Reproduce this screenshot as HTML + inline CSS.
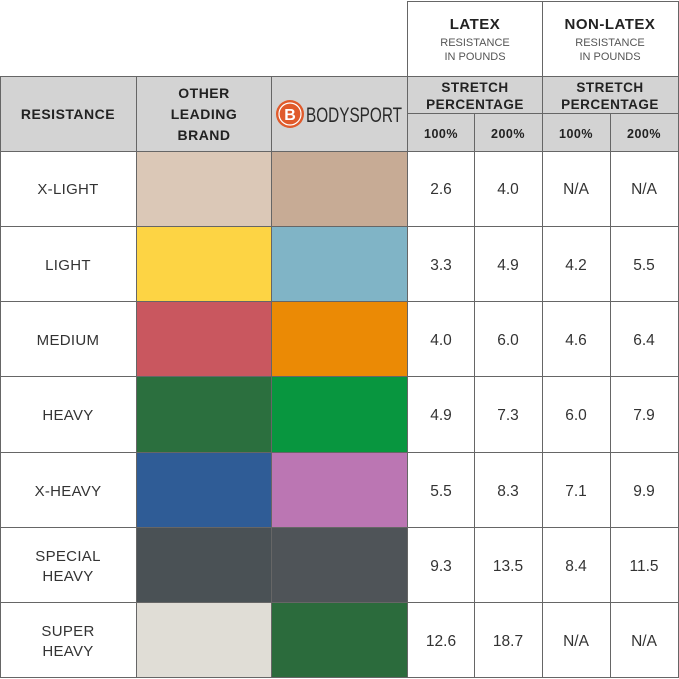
<!DOCTYPE html>
<html><head><meta charset="utf-8"><style>
html,body{margin:0;padding:0;background:#fff}
svg{display:block}
text{font-family:"Liberation Sans",sans-serif;text-anchor:middle}
.h{font-size:14px;font-weight:bold;fill:#222;letter-spacing:0.5px}
.s{font-size:11px;fill:#555}
.v{font-size:15.5px;fill:#333}
.l{font-size:15px;fill:#333;letter-spacing:0.3px}
</style></head><body>
<svg width="679" height="679" viewBox="0 0 679 679" xmlns="http://www.w3.org/2000/svg">
<rect x="0" y="76" width="679" height="75" fill="#d3d3d3"/>
<rect x="136" y="151" width="135" height="75" fill="#dbc8b7"/><rect x="271" y="151" width="136" height="75" fill="#c7ab95"/>
<rect x="136" y="226" width="135" height="75" fill="#fdd444"/><rect x="271" y="226" width="136" height="75" fill="#80b4c6"/>
<rect x="136" y="301" width="135" height="75" fill="#c9575f"/><rect x="271" y="301" width="136" height="75" fill="#eb8a05"/>
<rect x="136" y="376" width="135" height="76" fill="#2b6f3e"/><rect x="271" y="376" width="136" height="76" fill="#08963f"/>
<rect x="136" y="452" width="135" height="75" fill="#2f5c96"/><rect x="271" y="452" width="136" height="75" fill="#bb76b3"/>
<rect x="136" y="527" width="135" height="75" fill="#4a5155"/><rect x="271" y="527" width="136" height="75" fill="#4f5458"/>
<rect x="136" y="602" width="135" height="75" fill="#e0ddd6"/><rect x="271" y="602" width="136" height="75" fill="#2b6b3c"/>
<g stroke="#666" stroke-width="1" fill="none">
<path d="M407.5 1.5H678.5V677.5M542.5 1V151M407.5 1V677"/>
<path d="M0 76.5H679M0 151.5H679M0 226.5H679M0 301.5H679M0 376.5H679M0 452.5H679M0 527.5H679M0 602.5H679M0 677.5H679"/>
<path d="M407 113.5H679"/>
<path d="M0.5 76V678M136.5 76V678M271.5 76V678M474.5 113V678M542.5 76V678M610.5 113V678"/>
</g>
<text class="h" x="475" y="29" style="font-size:15px">LATEX</text>
<text class="s" x="475" y="46">RESISTANCE</text><text class="s" x="475" y="60">IN POUNDS</text>
<text class="h" x="610" y="29" style="font-size:15px">NON-LATEX</text>
<text class="s" x="610" y="46">RESISTANCE</text><text class="s" x="610" y="60">IN POUNDS</text>
<text class="h" x="68" y="119" style="font-size:14px">RESISTANCE</text>
<text class="h" x="204" y="98" style="font-size:14px">OTHER</text>
<text class="h" x="204" y="119" style="font-size:14px">LEADING</text>
<text class="h" x="204" y="140" style="font-size:14px">BRAND</text>
<text class="h" x="475" y="92" style="font-size:13.5px">STRETCH</text><text class="h" x="475" y="109" style="font-size:13.5px">PERCENTAGE</text>
<text class="h" x="610" y="92" style="font-size:13.5px">STRETCH</text><text class="h" x="610" y="109" style="font-size:13.5px">PERCENTAGE</text>
<text class="h" x="441" y="138" style="font-size:12.5px">100%</text><text class="h" x="508" y="138" style="font-size:12.5px">200%</text>
<text class="h" x="576" y="138" style="font-size:12.5px">100%</text><text class="h" x="644" y="138" style="font-size:12.5px">200%</text>
<circle cx="290" cy="114" r="14" fill="#e05a2b"/>
<circle cx="290" cy="114" r="11" fill="none" stroke="#fff" stroke-width="1.2"/>
<text x="290" y="120" style="font-size:16px;font-weight:bold;fill:#fff">B</text>
<text x="354" y="122" style="font-size:21px;fill:#2a2a2a" textLength="96" lengthAdjust="spacingAndGlyphs">BODYSPORT</text>
<text class="l" x="68" y="194">X-LIGHT</text>
<text class="l" x="68" y="270">LIGHT</text>
<text class="l" x="68" y="345">MEDIUM</text>
<text class="l" x="68" y="420">HEAVY</text>
<text class="l" x="68" y="496">X-HEAVY</text>
<text class="l" x="68" y="561">SPECIAL</text><text class="l" x="68" y="581">HEAVY</text>
<text class="l" x="68" y="636">SUPER</text><text class="l" x="68" y="656">HEAVY</text>
<text class="v" x="441" y="194">2.6</text><text class="v" x="508" y="194">4.0</text><text class="v" x="576" y="194">N/A</text><text class="v" x="644" y="194">N/A</text>
<text class="v" x="441" y="270">3.3</text><text class="v" x="508" y="270">4.9</text><text class="v" x="576" y="270">4.2</text><text class="v" x="644" y="270">5.5</text>
<text class="v" x="441" y="345">4.0</text><text class="v" x="508" y="345">6.0</text><text class="v" x="576" y="345">4.6</text><text class="v" x="644" y="345">6.4</text>
<text class="v" x="441" y="420">4.9</text><text class="v" x="508" y="420">7.3</text><text class="v" x="576" y="420">6.0</text><text class="v" x="644" y="420">7.9</text>
<text class="v" x="441" y="496">5.5</text><text class="v" x="508" y="496">8.3</text><text class="v" x="576" y="496">7.1</text><text class="v" x="644" y="496">9.9</text>
<text class="v" x="441" y="571">9.3</text><text class="v" x="508" y="571">13.5</text><text class="v" x="576" y="571">8.4</text><text class="v" x="644" y="571">11.5</text>
<text class="v" x="441" y="646">12.6</text><text class="v" x="508" y="646">18.7</text><text class="v" x="576" y="646">N/A</text><text class="v" x="644" y="646">N/A</text>
</svg>
</body></html>
